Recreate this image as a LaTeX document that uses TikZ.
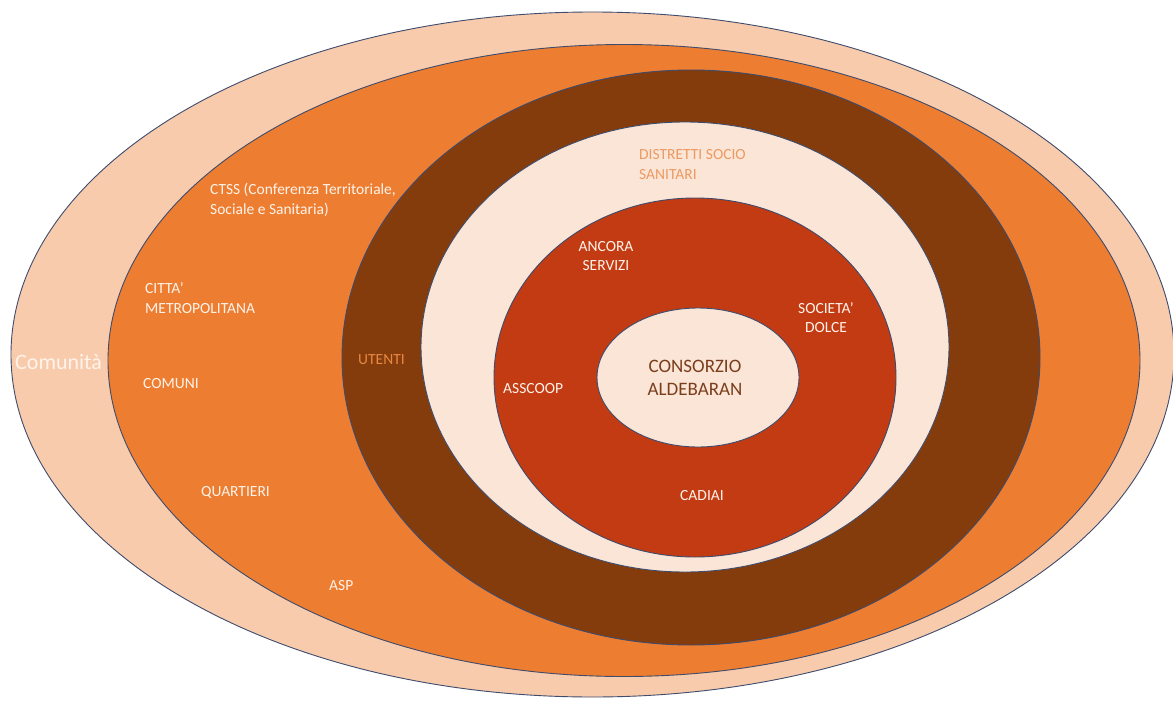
\documentclass[tikz,border=0pt]{standalone}
\usepackage{fontspec}
\setmainfont{Carlito}
\definecolor{peach}{HTML}{F8CBAD}
\definecolor{orng}{HTML}{ED7D31}
\definecolor{brwn}{HTML}{843C0C}
\definecolor{cream}{HTML}{FBE5D6}
\definecolor{rred}{HTML}{C23B13}
\definecolor{edge}{HTML}{3E4C6E}
\definecolor{wtxt}{HTML}{FFF3EA}
\definecolor{otxt}{HTML}{E98742}
\definecolor{dtxt}{HTML}{EC9A62}
\definecolor{btxt}{HTML}{7A3E1C}
\tikzset{
  ring/.style={draw=edge, line width=0.9pt},
  lbl/.style={inner sep=0pt, text=wtxt, font=\fontsize{15.5}{19.5}\selectfont},
  lblL/.style={lbl, anchor=west, align=left},
  lblC/.style={lbl, anchor=center, align=center},
}
\begin{document}
\begin{tikzpicture}[x=1pt,y=-1pt]
\useasboundingbox (0,0) rectangle (1173,704);
\fill[white] (0,0) rectangle (1173,704);
% rings
\draw[ring, fill=peach] (592.5,354.5) ellipse [x radius=581.5pt, y radius=342.5pt];
\draw[ring, fill=orng]  (624,360.5) ellipse [x radius=516pt, y radius=316pt];
\draw[ring, fill=brwn]  (691,357.5) ellipse [x radius=349pt, y radius=287.5pt];
\draw[ring, fill=cream] (685,347) ellipse [x radius=264pt, y radius=225pt];
\draw[ring, fill=rred]  (695,377.5) ellipse [x radius=201pt, y radius=179.5pt];
\draw[ring, fill=cream] (698,377.5) ellipse [x radius=101pt, y radius=69.5pt];
% labels
\node[lblL, font=\fontsize{22}{26}\selectfont] (comunita) at (15,362) {Comunità};
\node[lblL] (ctss) at (210,200) {CTSS (Conferenza Territoriale,\\Sociale e Sanitaria)};
\node[lblL] (citta) at (145,298) {CITTA’\\METROPOLITANA};
\node[lblL] (comuni) at (143,384) {COMUNI};
\node[lblL] (quartieri) at (201,492) {QUARTIERI};
\node[lblL] (asp) at (329,586) {ASP};
\node[lblL, text=otxt] (utenti) at (358,360) {UTENTI};
\node[lblL, text=dtxt] (distretti) at (639,164.5) {DISTRETTI SOCIO\\SANITARI};
\node[lblC] (ancora) at (606,256) {ANCORA\\SERVIZI};
\node[lblC] (dolce) at (826,317.5) {SOCIETA’\\DOLCE};
\node[lblL] (asscoop) at (503,389) {ASSCOOP};
\node[lblC] (cadiai) at (702,496) {CADIAI};
\node[lblC, text=btxt, font=\fontsize{19}{23}\selectfont] (consorzio) at (695,377.5) {CONSORZIO\\ALDEBARAN};
\end{tikzpicture}
\end{document}
